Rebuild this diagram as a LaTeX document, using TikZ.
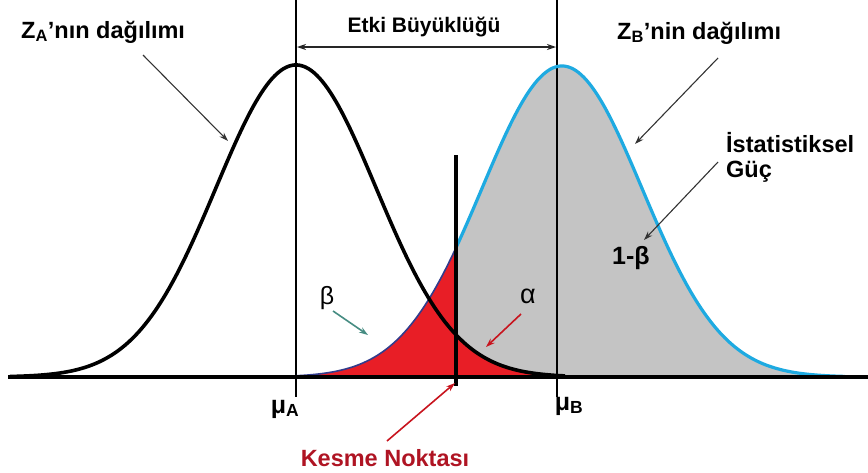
\documentclass[tikz,border=0pt]{standalone}
\usepackage{fontspec}
\setmainfont{Liberation Sans}
\usetikzlibrary{arrows.meta}
\definecolor{redfill}{RGB}{232,30,38}
\definecolor{grayfill}{RGB}{196,196,196}
\definecolor{cyanline}{RGB}{30,170,225}
\definecolor{navyline}{RGB}{50,60,140}
\definecolor{tealarrow}{RGB}{70,140,130}
\definecolor{darkred}{RGB}{175,20,35}
\definecolor{arrowred}{RGB}{200,20,30}
\tikzset{
  lbl/.style={font=\bfseries\fontsize{23.5}{26}\selectfont, inner sep=0pt},
  pointer/.style={-{Stealth[length=9pt,width=6pt]}, line width=1.1pt, draw=black!80},
  guide/.style={line width=1.1pt, black},
}
\begin{document}
\begin{tikzpicture}[x=1pt,y=-1pt]
\useasboundingbox (0,0) rectangle (868,472);
% fills
\fill[grayfill] (456,377) -- plot[domain=456:845, samples=120] (\x,{377-311*exp(-((\x-562)/80)^2/2)}) -- (845,377) -- cycle;
\fill[redfill] (250,377) -- plot[domain=250:456, samples=80] (\x,{377-311*exp(-((\x-562)/80)^2/2)}) -- (456,377) -- cycle;
\fill[redfill] (456,377) -- plot[domain=456:565, samples=60] (\x,{377-312*exp(-((\x-296)/80)^2/2)}) -- (565,377) -- cycle;
% guide lines
\coordinate (muAtop) at (296,0);
\coordinate (muAbot) at (296,397);
\coordinate (muBtop) at (557,0);
\coordinate (muBbot) at (557,397);
\draw[guide] (muAtop) -- (muAbot);
\draw[guide] (muBtop) -- (muBbot);
% curves
\draw[navyline, line width=1.6pt] plot[domain=250:456, samples=80] (\x,{377-311*exp(-((\x-562)/80)^2/2)});
\draw[cyanline, line width=3.2pt] plot[domain=456:845, samples=150] (\x,{377-311*exp(-((\x-562)/80)^2/2)});
\draw[black, line width=3.6pt] plot[domain=10:565, samples=200] (\x,{377-312*exp(-((\x-296)/80)^2/2)});
% axis
\coordinate (axL) at (8,377);
\coordinate (axR) at (868,377);
\draw[black, line width=4pt] (axL) -- (axR);
% cut line
\coordinate (cutT) at (456,155);
\coordinate (cutB) at (456,386);
\draw[black, line width=3.6pt] (cutT) -- (cutB);
% effect size
\coordinate (esL) at (297,47);
\coordinate (esR) at (556,47);
\draw[{Stealth[length=9pt,width=6pt]}-{Stealth[length=9pt,width=6pt]}, line width=1.2pt, black!85] (esL) -- (esR);
\node[font=\bfseries\fontsize{21}{24}\selectfont, inner sep=0pt] (es) at (424,27) {Etki Büyüklüğü};
% labels
\node[lbl, anchor=west] (za) at (21,32) {Z\textsubscript{A}’nın dağılımı};
\coordinate (zaT) at (228,141);
\draw[pointer] (143,55) -- (zaT);
\node[lbl, anchor=west] (zb) at (617,33) {Z\textsubscript{B}’nin dağılımı};
\coordinate (zbT) at (635,144);
\draw[pointer] (718,58) -- (zbT);
\node[lbl, anchor=west, align=left] (ig) at (726,157) {İstatistiksel\\[-1pt]Güç};
\node[lbl, anchor=west, font=\bfseries\fontsize{25}{26}\selectfont] (pw) at (612,258) {1-β};
\draw[pointer] (718,162) -- (644,240);
\node[lbl, font=\fontsize{25}{26}\selectfont] (beta) at (327,298) {β};
\coordinate (betaT) at (368,335);
\draw[-{Stealth[length=9pt,width=6pt]}, line width=1.6pt, tealarrow] (333,311) -- (betaT);
\node[lbl, font=\fontsize{27}{28}\selectfont] (alpha) at (528,296) {α};
\coordinate (alphaT) at (486,347);
\draw[-{Stealth[length=9pt,width=6pt]}, line width=1.6pt, arrowred] (521,314) -- (alphaT);
\node[lbl, font=\bfseries\fontsize{25}{26}\selectfont] (muA) at (285,409) {μ\textsubscript{A}};
\node[lbl, font=\bfseries\fontsize{25}{26}\selectfont] (muB) at (569,406) {μ\textsubscript{B}};
\node[lbl, text=darkred] (kn) at (385,458) {Kesme Noktası};
\coordinate (knT) at (455,383);
\draw[-{Stealth[length=9pt,width=6pt]}, line width=1.6pt, arrowred] (387,441) -- (knT);
\end{tikzpicture}
\end{document}
